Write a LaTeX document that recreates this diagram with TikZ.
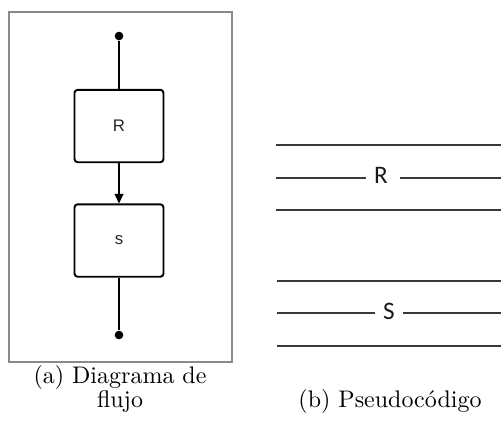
\documentclass[tikz,border=0pt]{standalone}
\usepackage{fontspec}
\newfontfamily\boxfont{Liberation Sans}
\newfontfamily\codefont{Carlito}
\usetikzlibrary{arrows.meta}
\definecolor{framegray}{HTML}{8A8A8A}
\definecolor{rulegray}{HTML}{3A3A3A}
\begin{document}
\begin{tikzpicture}[x=0.417pt,y=-0.417pt,
  block/.style={draw=black, line width=0.8pt, rounded corners=1.3pt,
    minimum width=37.1pt, minimum height=30.2pt, inner sep=0pt,
    font=\boxfont\fontsize{7}{8}\selectfont, text=black!85},
  terminal/.style={circle, fill=black, inner sep=0pt, minimum size=3.6pt},
  flow/.style={line width=0.45pt, black},
  outerframe/.style={draw=framegray, line width=0.85pt},
  coderule/.style={draw=rulegray, line width=0.65pt},
  codelabel/.style={font=\codefont\fontsize{10.5}{12}\selectfont, text=black!90, inner sep=0pt},
  caption/.style={anchor=base, inner sep=0pt, font=\fontsize{10}{12}\selectfont}
]
\useasboundingbox (0,0) rectangle (501,423);

% (a) flow diagram in its frame
\draw[outerframe] (9,12) rectangle (232,362);
\node[terminal] (start) at (119,36) {};
\node[block] (R) at (119,126) {R};
\node[block] (S) at (119,240.5) {s};
\node[terminal] (stop) at (119,335) {};
\draw[flow] (start) -- (R.north);
\draw[flow, -{Triangle[length=4pt, width=3.8pt]}] (R.south) -- (S.north);
\draw[flow] (S.south) -- (stop);

% (b) pseudocode rules
\coordinate (r1l) at (276,145); \coordinate (r1r) at (501,145);
\coordinate (r2l) at (276,178); \coordinate (r2r) at (501,178);
\coordinate (r3l) at (276,210); \coordinate (r3r) at (501,210);
\coordinate (s1l) at (277,281); \coordinate (s1r) at (501,281);
\coordinate (s2l) at (277,313); \coordinate (s2r) at (501,313);
\coordinate (s3l) at (277,346); \coordinate (s3r) at (501,346);
\node[codelabel] (Rcode) at (381,175) {R};
\node[codelabel] (Scode) at (389,311.5) {S};
\coordinate (r2a) at (366,178); \coordinate (r2b) at (400,178);
\coordinate (s2a) at (375,313); \coordinate (s2b) at (403,313);
\draw[coderule] (r1l) -- (r1r);
\draw[coderule] (r2l) -- (r2a);
\draw[coderule] (r2b) -- (r2r);
\draw[coderule] (r3l) -- (r3r);
\draw[coderule] (s1l) -- (s1r);
\draw[coderule] (s2l) -- (s2a);
\draw[coderule] (s2b) -- (s2r);
\draw[coderule] (s3l) -- (s3r);

% captions
\node[caption] (capa1) at (120,383) {(a) Diagrama de};
\node[caption] (capa2) at (120,407) {flujo};
\node[caption] (capb) at (390,407) {(b) Pseudocódigo};
\end{tikzpicture}
\end{document}
